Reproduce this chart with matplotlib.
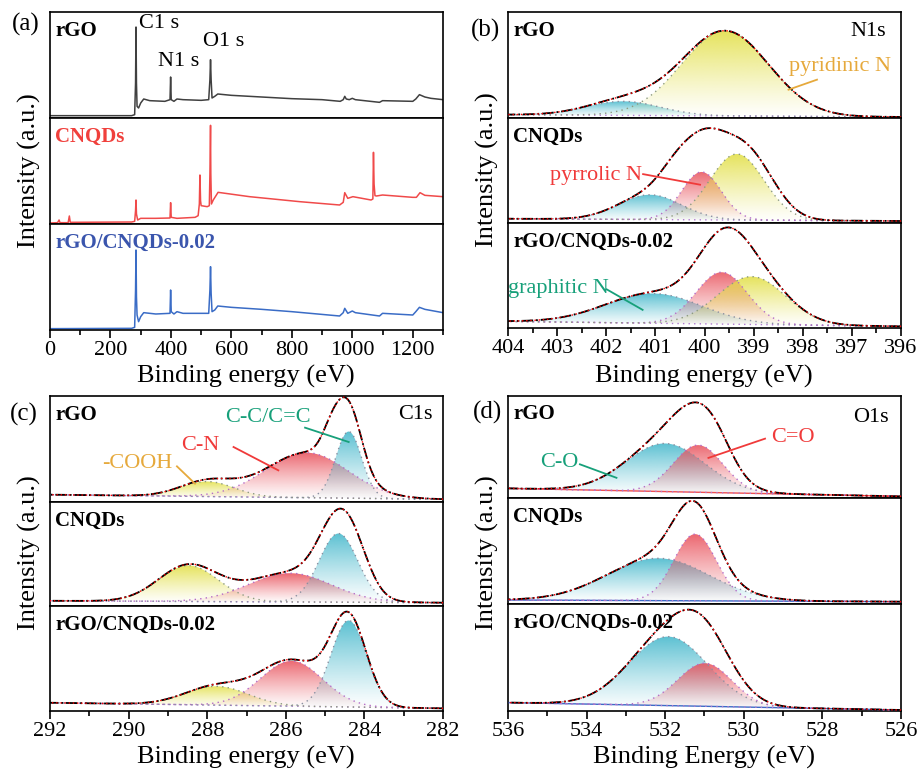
import numpy as np
import matplotlib.pyplot as plt
from matplotlib.colors import to_rgb
from matplotlib.ticker import MultipleLocator

plt.rcParams['font.family'] = ['Liberation Serif', 'DejaVu Serif']

W, H = 919, 770

###############################################################################
# (a) survey spectra, intensity in a.u. (traced points)
rgo_ev = [0, 270, 280, 283, 284.5, 286, 288, 293, 300, 310, 330, 380, 397, 399, 401,
          410, 420, 440, 500, 525, 529, 531, 533, 536, 545, 555, 600, 700, 800, 900,
          960, 970, 975, 980, 990, 1000, 1010, 1090, 1100, 1200, 1210, 1222, 1240, 1260, 1300]
rgo_int = [7, 7, 10, 105, 273, 105, 35, 30, 45, 57, 52, 50, 55, 123, 55,
           50, 57, 55, 53, 55, 115, 175, 115, 60, 65, 72, 68, 63, 58, 55,
           50, 55, 65, 57, 55, 59, 55, 47, 52, 50, 57, 70, 63, 59, 55]

cnqds_ev = [0, 25, 30, 33, 60, 64, 67, 270, 280, 283, 284.5, 286, 290, 300, 350, 397, 399,
            401, 420, 480, 490, 494, 496, 498, 500, 520, 527, 529, 530, 531, 532, 534, 540,
            556, 660, 826, 958, 970, 975, 985, 1002, 1062, 1068, 1070, 1072, 1075, 1080,
            1100, 1200, 1212, 1224, 1240, 1300]
cnqds_int = [3, 4, 12, 4, 4, 24, 5, 6, 8, 40, 72, 30, 12, 17, 17, 18, 64,
             20, 17, 20, 25, 60, 147, 70, 55, 52, 55, 150, 220, 296, 150, 60, 72,
             95, 82, 67, 57, 65, 94, 77, 82, 72, 75, 215, 120, 85, 84,
             87, 80, 80, 94, 86, 82]

comp_ev = [0, 270, 280, 283, 284.5, 286, 288, 293, 300, 310, 350, 397, 399, 401, 410,
           420, 440, 525, 529, 531, 533, 536, 545, 555, 600, 700, 800, 958, 970, 975,
           985, 1000, 1010, 1090, 1100, 1200, 1210, 1222, 1240, 1300]
comp_int = [4, 5, 8, 120, 240, 100, 45, 25, 40, 52, 48, 50, 120, 55, 48,
            55, 50, 50, 120, 190, 110, 55, 60, 72, 68, 62, 55, 42, 52, 65,
            50, 57, 52, 42, 50, 45, 55, 68, 62, 52]

###############################################################################
# fitted components: (kind, centre eV, sigma eV, height a.u.)
# baseline: (height at left end, height at right end)
N1S_RGO = [("cyan", 401.65, 0.75, 42), ("yellow", 399.58, 0.89, 255)]
N1S_RGO_EXTRA = []
N1S_RGO_BASE = (10, 3)

N1S_CNQDS = [("cyan", 401.11, 0.64, 75), ("red", 400.06, 0.40, 145), ("yellow", 399.34, 0.55, 200)]
N1S_CNQDS_EXTRA = [(400.6, 0.35, 75), (398.8, 0.45, 45)]
N1S_CNQDS_BASE = (13, 6)

N1S_COMP = [("cyan", 401.04, 0.98, 90), ("red", 399.65, 0.52, 157), ("yellow", 399.04, 0.69, 145)]
N1S_COMP_EXTRA = []
N1S_COMP_BASE = (20, 5)

C1S_RGO = [("yellow", 288.0, 0.68, 45), ("red", 285.46, 1.05, 135), ("cyan", 284.4, 0.33, 200)]
C1S_RGO_EXTRA = [(284.85, 0.25, 60)]
C1S_RGO_BASE = (22, 8)

C1S_CNQDS = [("yellow", 288.48, 0.76, 110), ("red", 285.89, 1.05, 88), ("cyan", 284.66, 0.49, 210)]
C1S_CNQDS_EXTRA = [(284.2, 0.4, 60)]
C1S_CNQDS_BASE = (16, 10)

C1S_COMP = [("yellow", 287.76, 0.80, 57), ("red", 285.85, 0.79, 137), ("cyan", 284.4, 0.45, 262)]
C1S_COMP_EXTRA = []
C1S_COMP_BASE = (25, 8)

O1S_RGO = [("cyan", 532.0, 1.0, 150), ("red", 531.16, 0.63, 147)]
O1S_RGO_EXTRA = [(530.7, 0.45, 45)]
O1S_RGO_BASE = (30, 5)

O1S_CNQDS = [("cyan", 532.18, 1.3, 127), ("red", 531.24, 0.54, 200)]
O1S_CNQDS_EXTRA = []
O1S_CNQDS_BASE = (12, 7)

O1S_COMP = [("cyan", 531.92, 1.0, 205), ("red", 530.99, 0.69, 128)]
O1S_COMP_EXTRA = []
O1S_COMP_BASE = (25, 3)

samples = ["rGO", "CNQDs", "rGO/CNQDs-0.02"]

###############################################################################
FILL = {"cyan": "#45b8cc", "red": "#e9525c", "yellow": "#e2df44"}
EDGE = {"cyan": "#8a8fa0", "red": "#b46cc8", "yellow": "#8c9a80"}
ORANGE, RED, GREEN = "#e6a93c", "#f03a3a", "#17a07a"
SUB_H = 318


def px_axes(left, top, right, bottom):
    return [left / W, 1 - bottom / H, (right - left) / W, (bottom - top) / H]


def stack(bounds, left, right):
    axs = []
    for top, bottom in zip(bounds[:-1], bounds[1:]):
        ax = fig.add_axes(px_axes(left, top, right, bottom))
        for s in ax.spines.values():
            s.set_linewidth(1.2)
        ax.set_yticks([])
        ax.set_ylim(0, SUB_H)
        axs.append(ax)
    for ax in axs[:-1]:
        ax.tick_params(axis="x", which="both", bottom=False, labelbottom=False)
    axs[-1].tick_params(axis="x", which="major", direction="out", length=6, width=1.2,
                        labelsize=16, pad=2)
    axs[-1].tick_params(axis="x", which="minor", direction="out", length=3.5, width=1.2)
    return axs


def gauss(x, c, s, h):
    return h * np.exp(-(x - c) ** 2 / (2 * s * s))


def grad_fill(ax, x, base, top, color, z):
    poly, = ax.fill(np.r_[x, x[::-1]], np.r_[top, base[::-1]], facecolor="none",
                    edgecolor="none")
    img = np.zeros((256, 1, 4))
    img[..., :3] = to_rgb(color)
    img[..., 3] = np.linspace(0.02, 0.9, 256)[:, None] ** 1.2
    im = ax.imshow(img, aspect="auto", origin="lower", interpolation="bilinear",
                   extent=[x.min(), x.max(), base.min(), top.max()], zorder=z)
    im.set_clip_path(poly)


def draw_fit(ax, xlim, comps, extras, base, base_color=None):
    x = np.linspace(min(xlim), max(xlim), 800)
    b = base[0] + (base[1] - base[0]) * (x - xlim[0]) / (xlim[1] - xlim[0])
    total = b.copy()
    for i, (kind, c, s, h) in enumerate(comps):
        g = gauss(x, c, s, h)
        total += g
        grad_fill(ax, x, b, b + g, FILL[kind], 1 + i)
        ax.plot(x, b + g, ls=(0, (1, 3)), lw=1.0, color=EDGE[kind], zorder=5)
    for c, s, h in extras:
        total += gauss(x, c, s, h)
    if base_color:
        ax.plot(x, b, color=base_color, lw=1.0, zorder=4)
    ax.plot(x, b, ls=(0, (1, 3)), lw=1.0, color="#b07ad0", zorder=4)
    ax.plot(x, total, color="black", ls="-.", lw=1.3, zorder=6)
    ax.plot(x, total, color="red", ls=(0, (1, 2)), lw=1.0, zorder=7)
    ax.set_xlim(*xlim)


def sample_labels(axs, colors=("black", "black", "black")):
    for ax, name, col in zip(axs, samples, colors):
        ax.text(0.013, 0.775, name, transform=ax.transAxes, fontsize=15,
                fontweight="bold", color=col, va="baseline", ha="left", zorder=10)


def callout(ax, text, xy_text, p0, p1, color):
    ax.text(*xy_text, text, color=color, fontsize=16, ha="center", va="center", zorder=10)
    ax.plot([p0[0], p1[0]], [p0[1], p1[1]], color=color, lw=1.3, zorder=10)


def fig_text(x, y, s, **kw):
    fig.text(x / W, 1 - y / H, s, **kw)


fig = plt.figure(figsize=(W / 100, H / 100), dpi=100)

# ---------------------------------------------------------------- (a)
axa = stack([12, 118, 224, 330], 50, 443)
for ax, ev, inten, col in zip(axa, [rgo_ev, cnqds_ev, comp_ev], [rgo_int, cnqds_int, comp_int],
                              ["#404040", "#f04a4a", "#3a6cc6"]):
    ax.plot(ev, inten, color=col, lw=1.1)
    ax.set_xlim(0, 1300)
axa[-1].xaxis.set_major_locator(MultipleLocator(200))
axa[-1].xaxis.set_minor_locator(MultipleLocator(100))
sample_labels(axa, ("black", "#f0403c", "#3a55ad"))
axa[0].text(295, 285, "C1 s", fontsize=16, va="center", ha="left")
axa[0].text(358, 170, "N1 s", fontsize=16, va="center", ha="left")
axa[0].text(506, 230, "O1 s", fontsize=16, va="center", ha="left")

# ---------------------------------------------------------------- (b)
axb = stack([12, 118, 223, 328], 508, 901)
for ax, comps, extra, base in zip(axb, [N1S_RGO, N1S_CNQDS, N1S_COMP],
                                  [N1S_RGO_EXTRA, N1S_CNQDS_EXTRA, N1S_COMP_EXTRA],
                                  [N1S_RGO_BASE, N1S_CNQDS_BASE, N1S_COMP_BASE]):
    draw_fit(ax, (404, 396), comps, extra, base)
axb[-1].xaxis.set_major_locator(MultipleLocator(1))
axb[-1].xaxis.set_minor_locator(MultipleLocator(0.5))
sample_labels(axb)
axb[0].text(396.3, 260, "N1s", fontsize=16, ha="right", va="center")
callout(axb[0], "pyridinic N", (397.24, 155), (397.71, 115), (398.29, 85), ORANGE)
callout(axb[1], "pyrrolic N", (402.2, 143), (401.25, 148), (400.09, 116), RED)
callout(axb[2], "graphitic N", (402.97, 120), (401.99, 117), (401.26, 55), GREEN)

# ---------------------------------------------------------------- (c)
axc = stack([396, 502, 606, 711], 50, 443)
for ax, comps, extra, base in zip(axc, [C1S_RGO, C1S_CNQDS, C1S_COMP],
                                  [C1S_RGO_EXTRA, C1S_CNQDS_EXTRA, C1S_COMP_EXTRA],
                                  [C1S_RGO_BASE, C1S_CNQDS_BASE, C1S_COMP_BASE]):
    draw_fit(ax, (292, 282), comps, extra, base)
axc[-1].xaxis.set_major_locator(MultipleLocator(2))
axc[-1].xaxis.set_minor_locator(MultipleLocator(1))
sample_labels(axc)
axc[0].text(282.26, 262, "C1s", fontsize=16, ha="right", va="center")
callout(axc[0], "C-C/C=C", (286.46, 255), (285.51, 223), (284.4, 180), GREEN)
callout(axc[0], "C-N", (288.17, 170), (287.33, 165), (286.19, 95), RED)
callout(axc[0], "-COOH", (289.78, 117), (288.77, 107), (288.31, 55), ORANGE)

# ---------------------------------------------------------------- (d)
axd = stack([396, 498, 604, 711], 508, 901)
for ax, comps, extra, base, bc in zip(axd, [O1S_RGO, O1S_CNQDS, O1S_COMP],
                                      [O1S_RGO_EXTRA, O1S_CNQDS_EXTRA, O1S_COMP_EXTRA],
                                      [O1S_RGO_BASE, O1S_CNQDS_BASE, O1S_COMP_BASE],
                                      ["#f05050", "#3a6cc6", "#3a6cc6"]):
    draw_fit(ax, (536, 526), comps, extra, base, base_color=bc)
axd[-1].xaxis.set_major_locator(MultipleLocator(2))
axd[-1].xaxis.set_minor_locator(MultipleLocator(1))
sample_labels(axd)
axd[0].text(526.3, 250, "O1s", fontsize=16, ha="right", va="center")
callout(axd[0], "C=O", (528.74, 190), (529.46, 185), (530.9, 125), RED)
callout(axd[0], "C-O", (534.7, 110), (534.17, 105), (533.24, 63), GREEN)

# ---------------------------------------------------------------- labels
lab = dict(fontsize=19, ha="center", va="center")
fig_text(246, 376, "Binding energy (eV)", **lab)
fig_text(704, 376, "Binding energy (eV)", **lab)
fig_text(246, 757, "Binding energy (eV)", **lab)
fig_text(704, 757, "Binding Energy (eV)", **lab)
for x, y in [(29, 171), (487, 170), (29, 553), (487, 553)]:
    fig_text(x, y, "Intensity (a.u.)", rotation=90, **lab)
for x, y, s in [(26, 24, "(a)"), (486, 30, "(b)"), (24, 414, "(c)"), (488, 412, "(d)")]:
    fig_text(x, y, s, fontsize=18, ha="center", va="center")

fig.savefig("out.png", dpi=100)
